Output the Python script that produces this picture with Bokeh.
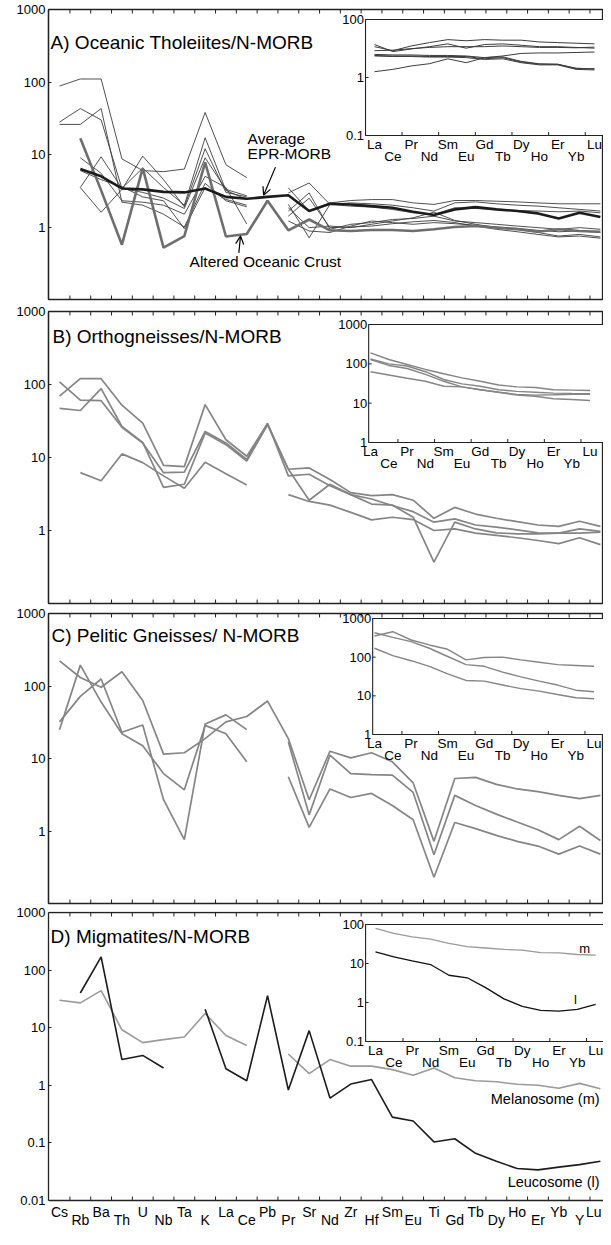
import numpy as np
from bokeh.plotting import figure
from bokeh.models import (Range1d, LogScale, FixedTicker, Arrow, OpenHead, Span,
                          CustomJSTickFormatter)
from bokeh.layouts import column
from bokeh.embed import file_html
from bokeh.resources import INLINE
from bokeh.core.properties import value

NaN = float("nan")
FONT = "Liberation Sans"
FRAME = "#222222"

# ---------------- categories ----------------
elements = ["Cs", "Rb", "Ba", "Th", "U", "Nb", "Ta", "K", "La", "Ce", "Pb", "Pr", "Sr", "Nd",
            "Zr", "Hf", "Sm", "Eu", "Ti", "Gd", "Tb", "Dy", "Ho", "Er", "Yb", "Y", "Lu"]
ree = ["La", "Ce", "Pr", "Nd", "Sm", "Eu", "Gd", "Tb", "Dy", "Ho", "Er", "Yb", "Lu"]

# ---------------- Panel A: oceanic tholeiites / N-MORB ----------------
a_thol_1 = [88, 110, 110, 8.7, 6.0, 5.8, 6.3, 38, 7.2, 4.8, NaN, 3.46, 1.66, 2.15, 2.32, 2.39, 2.39, 2.15, 2.05, 2.32, 2.32, 2.27, 2.22, 2.15, 2.09, 2.09, 2.09]
a_thol_2 = [28, 43, 30, 3.4, 3.0, 2.5, 1.8, 9.0, 3.3, 2.7, NaN, 2.95, 4.05, 2.05, 2.15, 2.09, 2.0, 1.84, 1.66, 2.15, 2.22, 2.09, 2.0, 1.94, 1.84, 1.75, 1.66]
a_thol_3 = [26, 26, 43, 2.2, 2.0, 1.5, 1.0, 4.0, 2.3, 1.9, NaN, 2.05, 0.71, 2.05, 1.94, 1.88, 1.75, 1.57, 1.49, 1.84, 1.80, 1.75, 1.69, 1.66, 1.62, 1.66, 1.57]
a_thol_4 = [NaN, 3.5, 9.3, 3.4, 6.5, 3.5, 2.0, 17, 3.2, 2.4, NaN, 1.66, 2.95, 0.93, 1.09, 1.15, 1.27, 1.31, 1.41, 1.21, 1.15, 1.09, 1.03, 0.98, 0.93, 0.98, 0.93]
a_thol_5 = [NaN, 3.5, 1.6, 3.3, 9.5, 4.5, 1.9, 12, 3.0, 2.6, NaN, 1.21, 0.88, 0.84, 1.03, 1.21, 1.15, 1.09, 1.15, 1.11, 1.06, 1.0, 0.96, 0.90, 0.86, 0.88, 0.84]
a_thol_6 = [NaN, 9.0, 5.5, 2.3, 2.2, 2.0, 1.5, 5.0, 3.5, 1.1, NaN, 1.84, 0.98, 1.03, 0.98, 1.09, 1.21, 1.34, 1.6, 1.23, 1.09, 0.98, 0.93, 0.84, 0.75, 0.79, 0.73]
a_thol_7 = [NaN, 6.0, 4.5, 3.6, 2.6, 2.3, 0.95, 3.5, 2.4, 2.0, NaN, 1.41, 2.5, 0.98, 1.0, 1.03, 1.11, 1.18, 1.23, 1.15, 1.03, 0.93, 0.86, 0.79, 0.73, 0.75, 0.70]
a_epr_morb = [NaN, 6.3, 5.0, 3.4, 3.3, 3.05, 3.0, 3.4, 2.6, 2.45, 2.6, 2.74, 1.66, 2.09, 2.04, 1.94, 1.84, 1.62, 1.46, 1.75, 1.88, 1.75, 1.66, 1.54, 1.31, 1.57, 1.37]
a_altered = [NaN, 16.7, 3.2, 0.57, 6.5, 0.52, 0.75, 7.8, 0.74, 0.8, 2.3, 0.9, 1.27, 0.9, 0.88, 0.91, 0.91, 0.88, 0.93, 1.0, 1.03, 0.98, 0.93, 0.86, 0.93, 0.88, 0.86]
# inset A (REE)
ia_1 = [3.4, 2.9, 3.5, 4.0, 4.5, 4.3, 4.5, 4.4, 4.4, 4.1, 4.0, 3.9, 3.8]
ia_2 = [3.7, 2.8, 3.1, 3.4, 3.8, 3.2, 3.7, 3.8, 3.6, 3.4, 3.4, 3.3, 3.2]
ia_3 = [2.9, 2.95, 3.15, 3.3, 3.4, 3.4, 3.4, 3.5, 3.4, 3.3, 3.3, 3.25, 3.35]
ia_4 = [2.5, 2.45, 2.45, 2.4, 2.4, 2.35, 2.2, 2.35, 2.6, 2.65, 2.65, 2.7, 2.75]
ia_5 = [2.4, 2.35, 2.35, 2.3, 2.3, 2.3, 2.1, 2.2, 1.85, 1.7, 1.7, 1.42, 1.42]
ia_6 = [2.35, 2.3, 2.3, 2.25, 2.25, 2.2, 2.05, 2.1, 1.8, 1.65, 1.65, 1.38, 1.35]
ia_7 = [1.26, 1.38, 1.58, 1.73, 2.1, 1.8, 2.2, 2.27, 1.9, 1.72, 1.68, 1.45, 1.4]
ia_ticks = [10, 1, 0.1]
ia_tick_labels = ["100", "1", "0.1"]

# ---------------- Panel B: orthogneisses / N-MORB ----------------
b_orth_1 = [69.5, 120, 120, 52, 29.5, 7.8, 7.5, 53, 17.5, 10.4, 29, 6.9, 7.2, 5.0, 3.3, 3.0, 3.1, 2.6, 1.47, 2.07, 1.68, 1.47, 1.32, 1.19, 1.14, 1.34, 1.14]
b_orth_2 = [109, 61, 60, 26, 15.8, 6.2, 6.3, 22.7, 15.8, 9.4, 29.5, 5.6, 5.9, 4.1, 3.1, 2.7, 2.2, 1.81, 1.3, 1.44, 1.19, 1.11, 1.02, 0.93, 0.92, 1.05, 0.97]
b_orth_3 = [47, 44, 88, 26.6, 16.1, 3.9, 4.3, 21.6, 15, 8.9, 28, 6.9, 2.6, 4.3, 3.1, 2.3, 2.23, 1.52, 0.37, 1.3, 1.05, 0.93, 0.9, 0.9, 0.92, 0.92, 0.95]
b_orth_4 = [NaN, 6.2, 4.8, 11.2, 8.5, 5.6, 3.8, 8.6, 6.0, 4.2, NaN, 3.1, 2.5, 2.23, 1.77, 1.4, 1.52, 1.41, 1.0, 1.05, 0.92, 0.855, 0.795, 0.73, 0.66, 0.795, 0.64]
ib_1 = [190, 129, 96, 72, 56, 44, 36, 29, 26, 25, 22, 21.5, 21]
ib_2 = [134, 100, 88, 63, 40, 31, 27, 22, 20, 19, 18, 17.7, 17.5]
ib_3 = [129, 91, 76, 54, 36, 26, 22, 19, 16.7, 16, 16.3, 16.7, 16.7]
ib_4 = [63, 52, 43, 36, 27, 26, 22, 19, 16, 15, 13, 12.4, 11.7]
ib_ticks = [1000, 100, 10, 1]
ib_tick_labels = ["1000", "100", "10", "1"]

# ---------------- Panel C: pelitic gneisses / N-MORB ----------------
c_pel_1 = [222, 131, 96, 157, 63, 11.5, 12, 18.8, 32, 38, 62, 18.8, 2.7, 12.6, 10.2, 12, 9.0, 4.6, 0.72, 5.3, 5.5, 4.4, 3.8, 3.5, 3.1, 2.8, 3.1]
c_pel_2 = [32, 72, 125, 23, 29, 2.7, 0.76, 30, 40, 25, NaN, NaN, NaN, NaN, NaN, NaN, NaN, NaN, NaN, NaN, NaN, NaN, NaN, NaN, NaN, NaN, NaN]
c_pel_3 = [25, 194, 60, 22, 15, 6.2, 3.7, 28.6, 22, 9.0, NaN, NaN, NaN, NaN, NaN, NaN, NaN, NaN, NaN, NaN, NaN, NaN, NaN, NaN, NaN, NaN, NaN]
c_pel_4 = [NaN, NaN, NaN, NaN, NaN, NaN, NaN, NaN, NaN, NaN, NaN, 16.9, 1.67, 11.1, 6.2, 6.0, 5.9, 3.4, 0.47, 3.1, 2.25, 1.71, 1.33, 1.04, 0.76, 1.16, 0.74]
c_pel_5 = [NaN, NaN, NaN, NaN, NaN, NaN, NaN, NaN, NaN, NaN, NaN, 5.6, 1.12, 3.8, 2.9, 3.3, 2.25, 1.43, 0.23, 1.31, 1.08, 0.87, 0.72, 0.62, 0.48, 0.62, 0.48]
ic_1 = [352, 455, 278, 207, 160, 85, 98, 100, 85, 74, 64, 61, 58]
ic_2 = [429, 326, 252, 170, 104, 64, 58, 41, 31, 24, 19, 14, 12.7]
ic_3 = [170, 110, 81, 58, 37, 25, 24, 19, 15.4, 13.2, 10.8, 8.9, 8.4]
ic_ticks = [1000, 100, 10, 1]
ic_tick_labels = ["1000", "100", "10", "1"]

# ---------------- Panel D: migmatites / N-MORB ----------------
d_melanosome = [30, 27, 44, 9.2, 5.5, 6.2, 6.9, 17.7, 7.3, 4.9, NaN, 3.5, 1.6, 2.8, 2.15, 2.15, 1.87, 1.5, 2.0, 1.35, 1.2, 1.15, 1.04, 1.0, 0.89, 1.08, 0.87]
d_leucosome = [NaN, 40, 169, 2.8, 3.3, 2.0, NaN, 21, 1.94, 1.2, 36, 0.83, 8.9, 0.6, 1.05, 1.26, 0.28, 0.24, 0.104, 0.118, 0.066, 0.048, 0.036, 0.034, 0.038, 0.042, 0.048]
id_m = [79, 59, 48, 42, 33, 27, 25, 23, 22, 19, 18.7, 17, 16.3]
id_l = [20, 14.8, 11.7, 9.4, 5.0, 4.3, 2.4, 1.24, 0.8, 0.63, 0.6, 0.67, 0.9]
id_ticks = [100, 10, 1, 0.1]
id_tick_labels = ["100", "10", "1", "0.1"]

main_ticks_abc = [1, 10, 100, 1000]
main_ticks_d = [0.01, 0.1, 1, 10, 100, 1000]

# ---------------- layout helpers ----------------
W = 555           # frame width (px)
X_START, X_END = -0.53, 26.15
UNIT = W / (X_END - X_START)
xi_main = list(range(len(elements)))
xi_ree = list(range(len(ree)))
bounds_x = [i + 0.5 for i in range(len(elements) - 1)]


def make_panel(frame_h, top, bottom, ylo, yhi, yticks, axis_bounds=None, outline=True):
    p = figure(width=48 + W, height=top + frame_h + bottom,
               x_range=Range1d(X_START, X_END), y_range=Range1d(ylo, yhi),
               y_axis_type="log", x_axis_location=None,
               output_backend="svg", toolbar_location=None,
               min_border_left=48, min_border_right=0,
               min_border_top=top, min_border_bottom=bottom)
    p.xgrid.visible = False
    p.ygrid.visible = False
    if outline:
        p.outline_line_color = FRAME
        p.outline_line_width = 1.3
    else:
        p.outline_line_color = None
    ya = p.yaxis[0]
    ya.ticker = FixedTicker(ticks=yticks)
    ya.formatter = CustomJSTickFormatter(code="return String(tick);")
    ya.major_tick_in = 3
    ya.major_tick_out = 0
    ya.minor_tick_line_color = None
    ya.major_label_text_font = FONT
    ya.major_label_text_font_size = "13px"
    ya.major_label_text_color = "black"
    ya.major_label_standoff = 3
    ya.axis_line_color = FRAME
    ya.axis_line_width = 1.3
    ya.major_tick_line_color = FRAME
    if axis_bounds is not None:
        ya.bounds = axis_bounds
    return p


def add_xticks(p, lo, hi, dec):
    n = len(bounds_x)
    p.segment(x0=bounds_x, x1=bounds_x, y0=[lo] * n, y1=[lo * 10 ** (4 / dec)] * n,
              line_color=FRAME, line_width=1)
    p.segment(x0=bounds_x, x1=bounds_x, y0=[hi] * n, y1=[hi / 10 ** (4 / dec)] * n,
              line_color=FRAME, line_width=1)


def add_title(p, x, y, txt):
    p.text(x=[x], y=[y], text=[txt], text_font=value(FONT), text_font_size="19px",
           text_align="left", text_baseline="middle", text_color="black")


def add_inset(p, H, t, h, lo, hi, x0, u, left_idx, tick_vals, tick_texts, series):
    d = h / (np.log10(hi) - np.log10(lo))
    xs, xe = -x0 / u, (W - x0) / u
    ys = 10 ** (np.log10(lo) - (H - t - h) / d)
    ye = 10 ** (np.log10(hi) + t / d)
    p.extra_x_ranges = {"ix": Range1d(xs, xe)}
    p.extra_y_ranges = {"iy": Range1d(ys, ye)}
    p.extra_y_scales = {"iy": LogScale()}
    kw = dict(x_range_name="ix", y_range_name="iy")
    p.quad(left=[left_idx], right=[xe + 2], bottom=[lo], top=[hi], fill_color="white",
           line_color=FRAME, line_width=1.1, **kw)
    for vals, color, width in series:
        p.line(xi_ree, vals, line_color=color, line_width=width, **kw)
    n = len(tick_vals)
    p.segment(x0=[left_idx] * n, y0=tick_vals, x1=[left_idx + 3 / u] * n, y1=tick_vals,
              line_color=FRAME, line_width=1, **kw)
    p.text(x=[left_idx - 1.5 / u] * n, y=tick_vals, text=tick_texts, text_font=value(FONT),
           text_font_size="13px", text_align="right", text_baseline="middle",
           text_color="black", **kw)
    bt = [1.5, 3.5, 5.5, 7.5, 9.5, 11.5]
    p.segment(x0=bt, y0=[lo] * len(bt), x1=bt, y1=[lo * 10 ** (3.5 / d)] * len(bt),
              line_color=FRAME, line_width=1, **kw)
    ly = [lo / 10 ** ((9 if i % 2 == 0 else 21) / d) for i in xi_ree]
    p.text(x=xi_ree, y=ly, text=ree, text_font=value(FONT), text_font_size="13.5px",
           text_align="center", text_baseline="middle", text_color="black", **kw)
    return kw


# ---------------- Panel A ----------------
HA = 290
pA = make_panel(HA, 9, 2, 0.1, 1000, main_ticks_abc)
add_xticks(pA, 0.1, 1000, HA / 4)
for s in [a_thol_1, a_thol_2, a_thol_3, a_thol_4, a_thol_5, a_thol_6, a_thol_7]:
    pA.line(xi_main, s, line_color="#3c3c3c", line_width=0.9)
pA.line(xi_main, a_altered, line_color="#6e6e6e", line_width=2.6)
pA.line(xi_main, a_epr_morb, line_color="#1c1c1c", line_width=2.6)
add_title(pA, -0.43, 355, "A) Oceanic Tholeiites/N-MORB")
pA.text(x=[9.04, 9.04], y=[16.8, 10.2], text=["Average", "EPR-MORB"], text_font=value(FONT),
        text_font_size="15.5px", text_align="left", text_baseline="middle", text_color="black")
pA.text(x=[6.25], y=[0.33], text=["Altered Oceanic Crust"], text_font=value(FONT),
        text_font_size="15.5px", text_align="left", text_baseline="middle", text_color="black")
pA.add_layout(Arrow(end=OpenHead(size=8, line_width=1.2, line_color="black"),
                    x_start=10.38, y_start=6.7, x_end=9.81, y_end=2.75,
                    line_width=1.2, line_color="black"))
pA.add_layout(Arrow(end=OpenHead(size=8, line_width=1.2, line_color="black"),
                    x_start=8.62, y_start=0.44, x_end=8.7, y_end=0.75,
                    line_width=1.2, line_color="black"))
add_inset(pA, HA, 10, 116, 0.1, 10, 326, 18.33, -0.49, ia_ticks, ia_tick_labels,
          [(s, "#3c3c3c", 1.0) for s in [ia_1, ia_2, ia_3, ia_4, ia_5, ia_6, ia_7]])

# ---------------- Panel B ----------------
HB = 292
pB = make_panel(HB, 10, 2, 0.1, 1000, main_ticks_abc)
add_xticks(pB, 0.1, 1000, HB / 4)
for s in [b_orth_1, b_orth_2, b_orth_3, b_orth_4]:
    pB.line(xi_main, s, line_color="#858585", line_width=1.7)
add_title(pB, -0.34, 458, "B) Orthogneisses/N-MORB")
add_inset(pB, HB, 13, 118, 1, 1000, 322, 18.3, -0.1, ib_ticks, ib_tick_labels,
          [(s, "#858585", 1.4) for s in [ib_1, ib_2, ib_3, ib_4]])

# ---------------- Panel C ----------------
HC = 290
pC = make_panel(HC, 8, 2, 0.1, 1000, main_ticks_abc)
add_xticks(pC, 0.1, 1000, HC / 4)
for s in [c_pel_1, c_pel_2, c_pel_3, c_pel_4, c_pel_5]:
    pC.line(xi_main, s, line_color="#858585", line_width=1.7)
add_title(pC, -0.39, 500, "C) Pelitic Gneisses/ N-MORB")
add_inset(pC, HC, 5, 116, 1, 1000, 326, 18.3, -0.1, ic_ticks, ic_tick_labels,
          [(s, "#858585", 1.4) for s in [ic_1, ic_2, ic_3]])

# ---------------- Panel D ----------------
HD = 288                      # px from 1000 down to 0.01
DEC_D = HD / 5.0
D_EXT_TOP, D_EXT_BOT = 1, 29  # extra px of frame above 1000 / below 0.01 (label row)
D_LO, D_HI = 0.01, 1000
pD = make_panel(HD + D_EXT_TOP + D_EXT_BOT, 6, 0,
                D_LO / 10 ** (D_EXT_BOT / DEC_D), D_HI * 10 ** (D_EXT_TOP / DEC_D),
                main_ticks_d, axis_bounds=(D_LO, D_HI), outline=False)
pD.add_layout(Span(location=D_HI, dimension="width", line_color=FRAME, line_width=1.3))
pD.add_layout(Span(location=D_LO, dimension="width", line_color=FRAME, line_width=1.3))
add_xticks(pD, D_LO, D_HI, DEC_D)
pD.line(xi_main, d_melanosome, line_color="#9a9a9a", line_width=1.6)
pD.line(xi_main, d_leucosome, line_color="#1c1c1c", line_width=1.6)
add_title(pD, -0.43, 376, "D) Migmatites/N-MORB")
pD.text(x=[25.96, 25.96], y=[0.587, 0.021], text=["Melanosome (m)", "Leucosome (l)"],
        text_font=value(FONT), text_font_size="14.5px", text_align="right",
        text_baseline="middle", text_color="black")
kwD = add_inset(pD, HD + D_EXT_TOP + D_EXT_BOT, 12 + D_EXT_TOP, 117, 0.1, 100, 327, 18.35,
                -0.54, id_ticks, id_tick_labels,
                [(id_m, "#9a9a9a", 1.3), (id_l, "#111111", 1.3)])
pD.text(x=[11.4, 10.9], y=[24.5, 1.17], text=["m", "l"], text_font=value(FONT),
        text_font_size="13px", text_align="center", text_baseline="middle",
        text_color="black", **kwD)
# element names under the x axis (staggered, as in the original)
lab_y = [D_LO / 10 ** ((11 if i % 2 == 0 else 19) / DEC_D) for i in xi_main]
lab_x = list(xi_main)
lab_align = ["center"] * len(xi_main)
lab_x[-1] = (W - 2) / UNIT + X_START      # keep the last name inside the frame
lab_align[-1] = "right"
pD.text(x=lab_x, y=lab_y, text=elements, text_font=value(FONT), text_font_size="14px",
        text_align=lab_align, text_baseline="middle", text_color="black")

layout = column(pA, pB, pC, pD)
open("out.html", "w").write(file_html(layout, INLINE, title="Spider diagrams"))
